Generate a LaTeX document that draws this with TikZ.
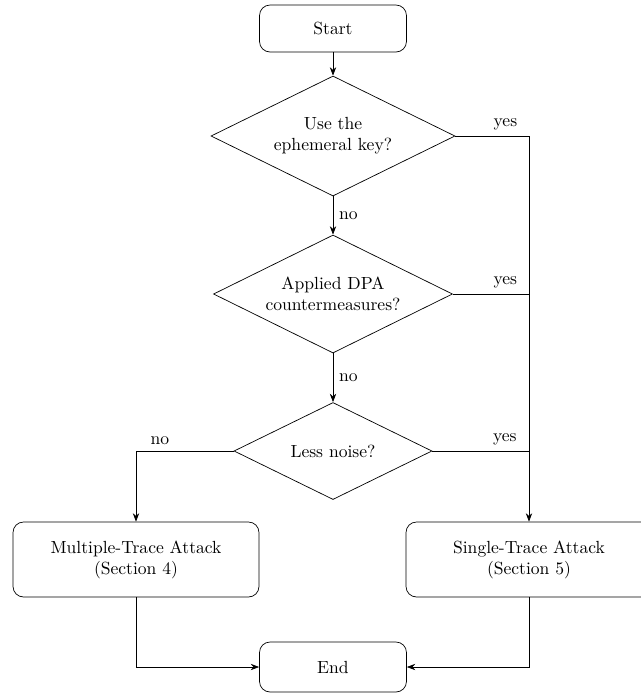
\documentclass[tikz,border=0pt]{standalone}
\usepackage{tikz}
\usetikzlibrary{positioning, arrows.meta, calc, shapes.geometric}

\begin{document}
\begin{tikzpicture}[
  every node/.style = {font=\normalsize},
  term/.style  = {draw, rounded corners=6pt, minimum width=2.94cm,
                  align=center},
  dec/.style   = {draw, diamond, aspect=2, inner sep=0pt, align=center},
  attack/.style = {draw, rounded corners=6pt, minimum width=4.92cm,
                  minimum height=1.5cm, align=center},
  arr/.style   = {-Stealth},
  line/.style  = {-}
]
\useasboundingbox (0,0) rectangle (12.82,-13.9);

\node[term, minimum height=0.94cm] (start) at (6.66, -0.57)  {Start};
\node[dec, minimum width=4.88cm, minimum height=2.4cm]
                                   (eph)   at (6.66, -2.72)  {Use the\\ephemeral key?};
\node[dec, minimum width=4.78cm, minimum height=2.36cm]
                                   (dpa)   at (6.66, -5.88)  {Applied DPA\\countermeasures?};
\node[dec, minimum width=3.96cm, minimum height=1.94cm]
                                   (noise) at (6.66, -9.02)  {Less noise?};
\node[attack] (multi)  at (2.72, -11.19) {Multiple-Trace Attack\\(Section 4)};
\node[attack] (single) at (10.58,-11.19) {Single-Trace Attack\\(Section 5)};
\node[term, minimum height=1.0cm]  (end)   at (6.66, -13.34) {End};

\draw[arr] (start) -- (eph);
\draw[arr] (eph)   -- node[right] {no} (dpa);
\draw[arr] (dpa)   -- node[right] {no} (noise);

\draw[arr] (eph.east)
  -- node[above, pos=0.68] {yes} (eph.east -| single)
  -- (single);
\draw[line] (dpa.east)
  -- node[above, pos=0.69] {yes} (dpa.east -| single);
\draw[line] (noise.east)
  -- node[above, pos=0.75] {yes} (noise.east -| single);

\draw[arr] (noise.west)
  -- node[above, pos=0.755] {no} (noise.west -| multi)
  -- (multi);

\draw[arr] (multi)  |- (end);
\draw[arr] (single) |- (end);

\end{tikzpicture}
\end{document}
